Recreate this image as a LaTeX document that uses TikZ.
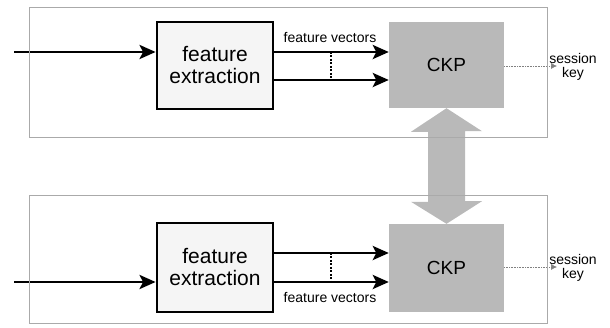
\documentclass[tikz,border=0pt]{standalone}
\usepackage{fontspec}
\setmainfont{Liberation Sans}
\usetikzlibrary{arrows.meta}

\definecolor{framegray}{RGB}{170,170,170}
\definecolor{ckpgray}{RGB}{185,185,185}
\definecolor{boxfill}{RGB}{245,245,245}

\begin{document}
\begin{tikzpicture}[x=1pt,y=-1pt,
    frame/.style={draw=framegray,line width=0.9pt},
    febox/.style={draw=black,line width=2.8pt,fill=boxfill,minimum width=116pt,minimum height=87pt,
        align=center,font=\fontsize{21}{22}\selectfont},
    ckpbox/.style={fill=ckpgray,minimum width=115pt,minimum height=86pt,font=\fontsize{19}{20}\selectfont},
    flow/.style={line width=2.9pt,-{Stealth[length=16pt,width=14pt,inset=3.5pt]}},
    link/.style={line width=1.9pt,dash pattern=on 2pt off 1.5pt},
    keyline/.style={draw=gray,densely dotted,line width=0.6pt,-{Latex[length=6pt,width=6pt]}},
    small/.style={font=\fontsize{14}{14}\selectfont,align=center,inner sep=0pt}]
    \useasboundingbox (0,0) rectangle (610,328);

    % upper chain
    \node[febox] (feA) at (215,65.5) {feature\\extraction};
    \node[ckpbox] (ckpA) at (446.5,65) {CKP};
    \coordinate (inA) at (14,52);
    \coordinate (keyA) at (557,66);

    \draw[flow] (inA) -- (inA -| feA.west);
    \draw[flow] (feA.east |- 0,52) -- (ckpA.west |- 0,52);
    \draw[flow] (feA.east |- 0,80) -- (ckpA.west |- 0,80);
    \draw[link] (331,52) -- (331,80);
    \node[small] (fvA) at (330,38) {feature vectors};
    \draw[keyline] (ckpA.east |- keyA) -- (keyA);
    \node[small] (skA) at (573,67) {session\\key};

    % lower chain
    \node[febox,minimum height=89pt] (feB) at (215,267.5) {feature\\extraction};
    \node[ckpbox,minimum height=88pt] (ckpB) at (446.5,268) {CKP};
    \coordinate (inB) at (14,282);
    \coordinate (keyB) at (557,267);

    \draw[flow] (inB) -- (inB -| feB.west);
    \draw[flow] (feB.east |- 0,253) -- (ckpB.west |- 0,253);
    \draw[flow] (feB.east |- 0,282) -- (ckpB.west |- 0,282);
    \draw[link] (331,253) -- (331,282);
    \node[small] (fvB) at (330,298) {feature vectors};
    \draw[keyline] (ckpB.east |- keyB) -- (keyB);
    \node[small] (skB) at (573,268) {session\\key};

    % key agreement between the two CKP blocks
    \fill[ckpgray] (ckpA.south) -- ++(35.5,23) -- ++(-17,0) -- ++(0,70)
        -- ++(17,0) -- (ckpB.north) -- ++(-35.5,-22) -- ++(17,0)
        -- ++(0,-70) -- ++(-17,0) -- cycle;

    % outer frames
    \draw[frame] (29,7) rectangle (547,137);
    \draw[frame] (29,195) rectangle (547,323);
\end{tikzpicture}
\end{document}
